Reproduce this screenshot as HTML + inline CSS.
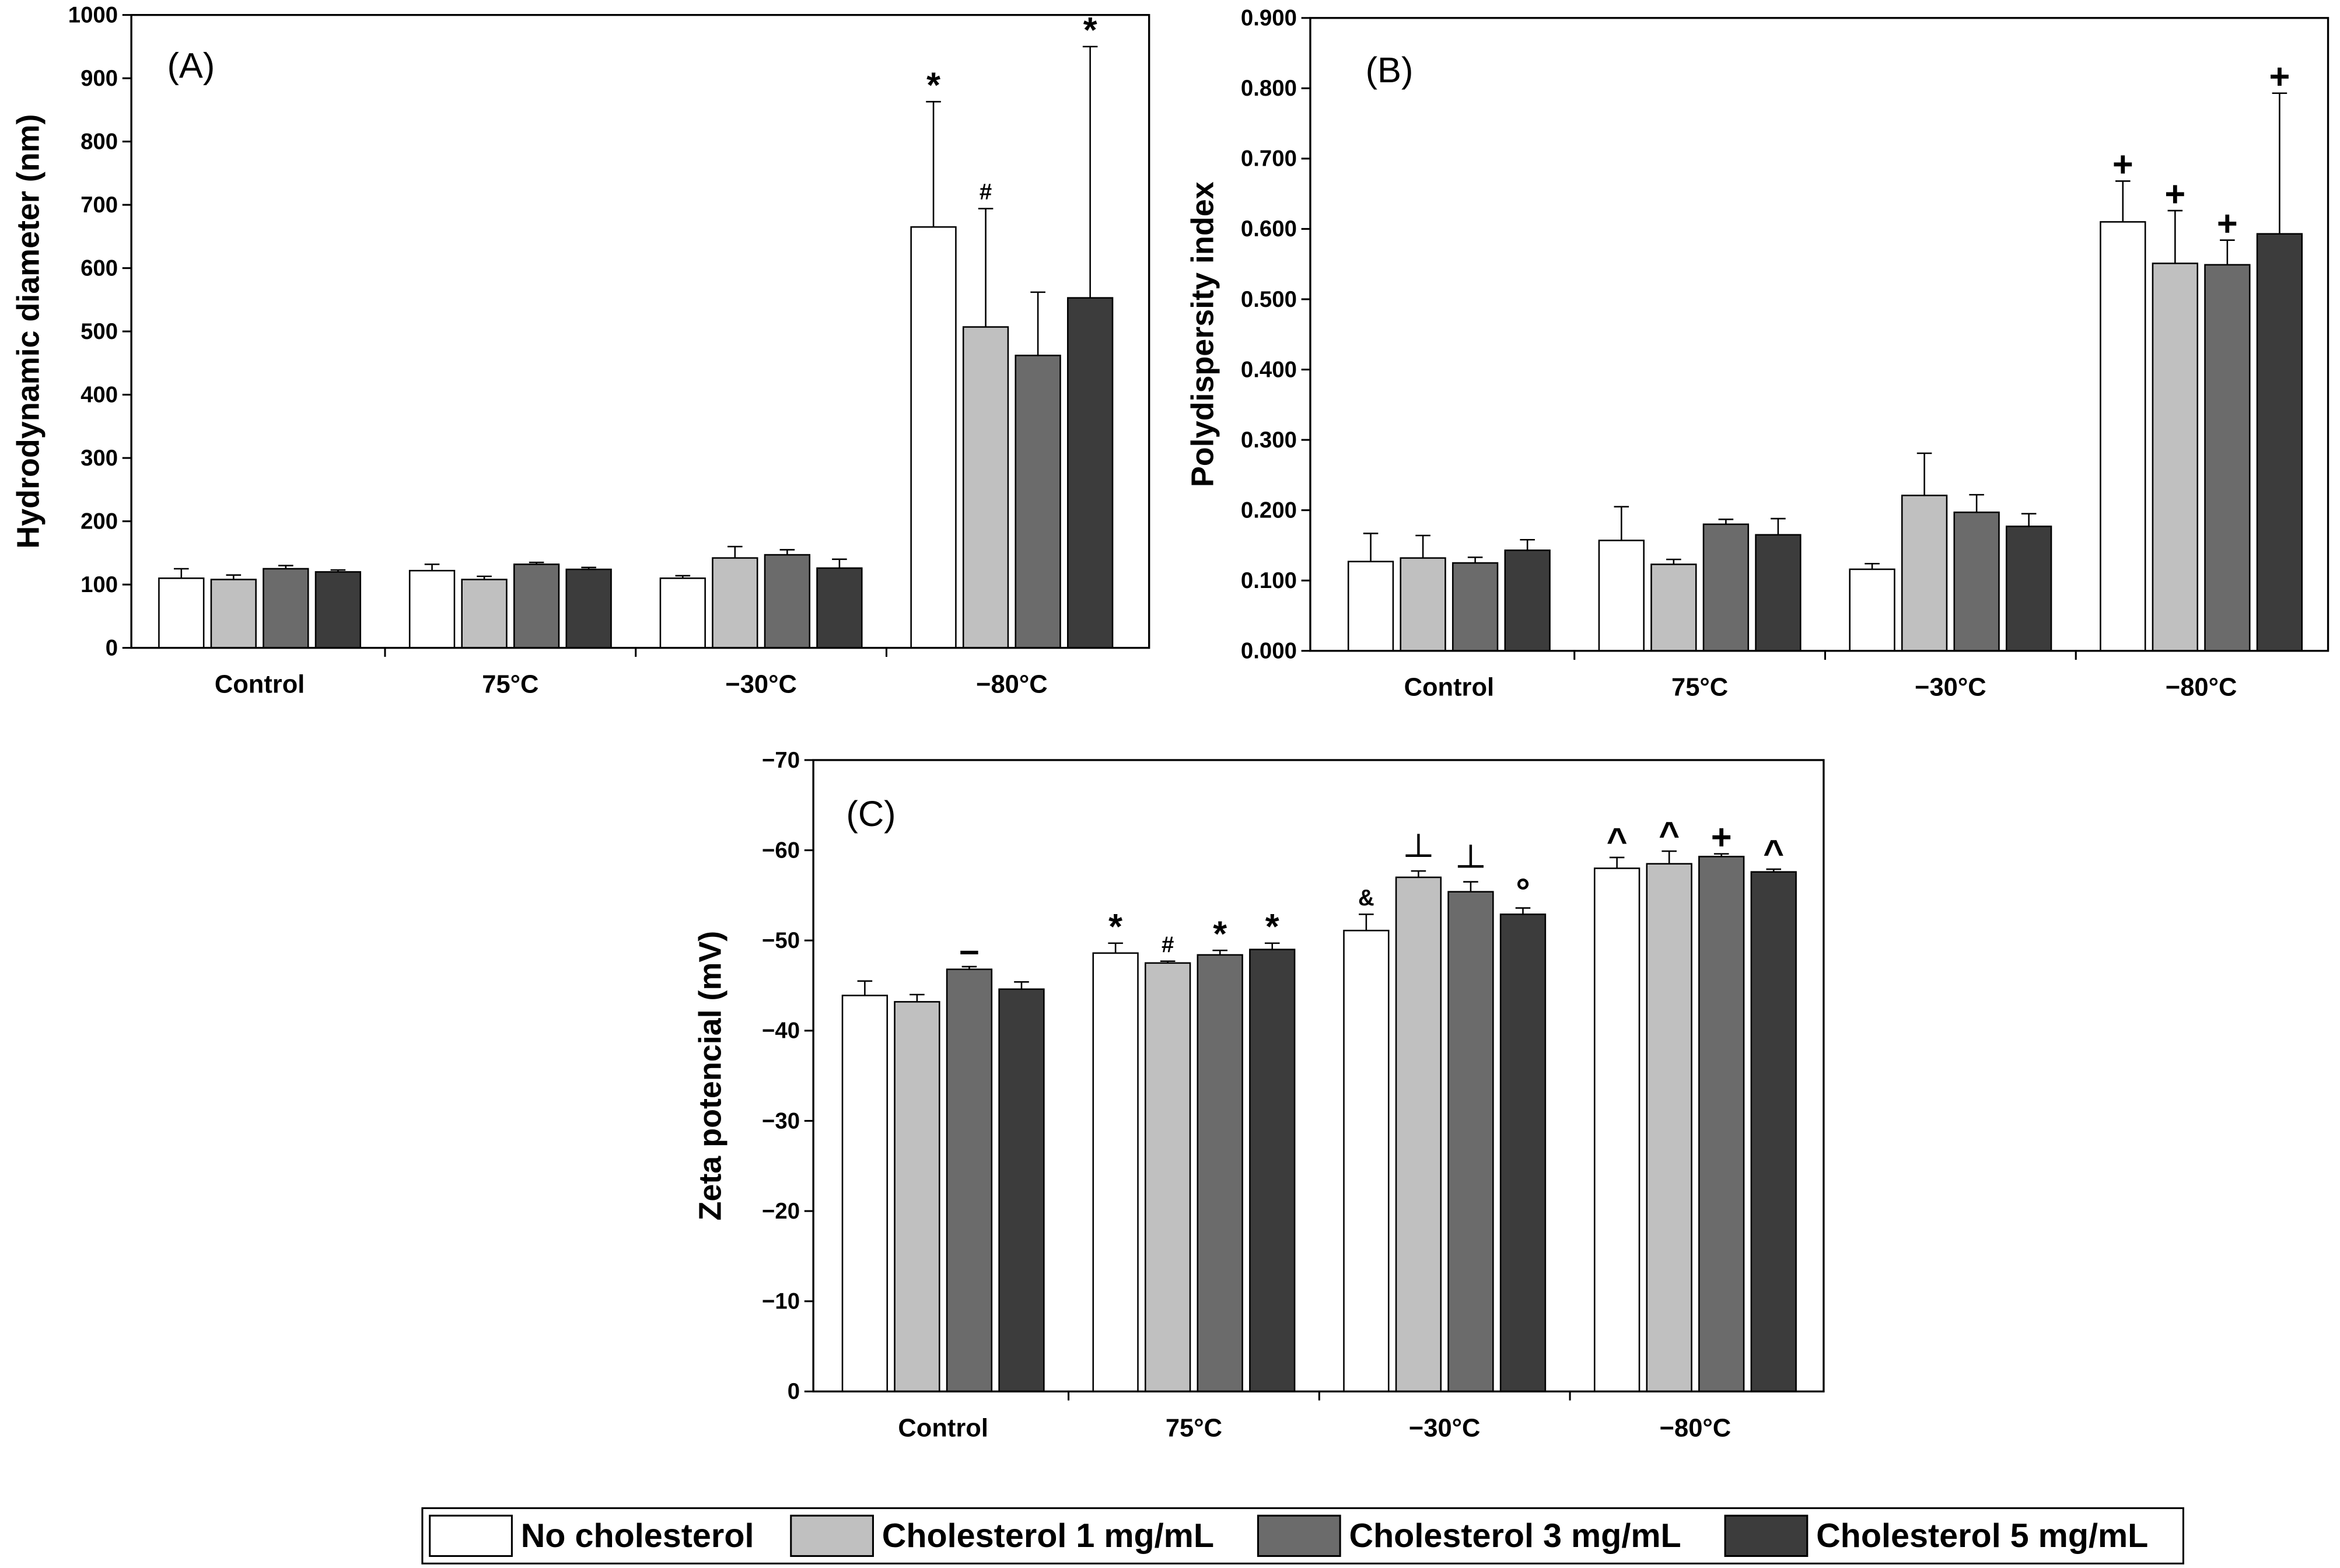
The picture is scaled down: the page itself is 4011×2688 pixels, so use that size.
<!DOCTYPE html>
<html><head><meta charset="utf-8"><style>
html,body{margin:0;padding:0;background:#fff}
svg{display:block}
text{font-family:"Liberation Sans",Arial,sans-serif;fill:#000}
</style></head><body>
<svg id="fig" width="4011" height="2688" viewBox="0 0 1568 1048" preserveAspectRatio="none" xmlns="http://www.w3.org/2000/svg"></svg>
<script>
const categories = ["Control","75°C","\u221230°C","\u221280°C"];
const seriesNames = ["No cholesterol","Cholesterol 1 mg/mL","Cholesterol 3 mg/mL","Cholesterol 5 mg/mL"];
const colors = ["#ffffff","#c0c0c0","#6b6b6b","#3c3c3c"];

const aValues = [[110,108,125,120],[122,108,132,124],[110,142,147,126],[665,507,462,553]];
const aErrors = [[15,7,5,3],[10,5,3,3],[4,18,8,14],[198,187,100,397]];
const aMarks = [["","","",""],["","","",""],["","","",""],["*","#","","*"]];
const aTicks = [0,100,200,300,400,500,600,700,800,900,1000];

const bValues = [[0.127,0.132,0.125,0.143],[0.157,0.123,0.180,0.165],[0.116,0.221,0.197,0.177],[0.610,0.551,0.549,0.593]];
const bErrors = [[0.040,0.032,0.008,0.015],[0.048,0.007,0.007,0.023],[0.008,0.060,0.025,0.018],[0.058,0.075,0.035,0.200]];
const bMarks = [["","","",""],["","","",""],["","","",""],["+","+","+","+"]];
const bTicks = [0,0.1,0.2,0.3,0.4,0.5,0.6,0.7,0.8,0.9];

const cValues = [[43.9,43.2,46.8,44.6],[48.6,47.5,48.4,49.0],[51.1,57.0,55.4,52.9],[58.0,58.5,59.3,57.6]];
const cErrors = [[1.6,0.8,0.3,0.8],[1.1,0.2,0.5,0.7],[1.8,0.7,1.1,0.7],[1.2,1.4,0.3,0.3]];
const cMarks = [["","","\u2013",""],["*","#","*","*"],["&","\u2534","\u2534","\u00b0"],["^","^","+","^"]];
const cTicks = [0,10,20,30,40,50,60,70];

const svg = document.getElementById('fig');
const NS = "http://www.w3.org/2000/svg";
function mk(tag, attrs, parent){ const e=document.createElementNS(NS,tag); for(const k in attrs) e.setAttribute(k,attrs[k]); (parent||svg).appendChild(e); return e; }

function panel(cfg){
  const g = mk('g',{});
  
  
  const {x0,x1,y0,y1,max,firstCenter,spacing} = cfg;
  const yS = v => y1 - (v/max)*(y1-y0);
  const xG = i => firstCenter + i*spacing;
  const barW = 30, step = 35;
  cfg.values.forEach((grp,gi)=>{
    grp.forEach((v,si)=>{
      const cx = xG(gi) + (si-1.5)*step;
      const e = cfg.errors[gi][si];
      const top = yS(e+v);
      const l = mk('line',{x1:cx,x2:cx,y1:yS(v),y2:top,stroke:'#000','stroke-width':1},g);
      
      
      const cap = mk('line',{x1:cx-5,x2:cx+5,y1:top,y2:top,stroke:'#000','stroke-width':1},g);
      
      
      const r = mk('rect',{x:cx-barW/2,y:yS(v),width:barW,height:y1-yS(v),fill:colors[si],stroke:'#000','stroke-width':1},g);
      
      
      const m = cfg.marks[gi][si];
      if(m){
        const small = (m==='#'||m==='&');
        const t = mk('text',{x:cx,y:top-(small?6:3),'text-anchor':'middle','font-size':small?15:24,'font-weight':'bold'},g);
        t.textContent = m;
        
        
      }
    });
    const lab = mk('text',{x:xG(gi),y:y1+30,'text-anchor':'middle','font-size':17,'font-weight':'bold'},g);
    lab.textContent = categories[gi];
    
    
    if(gi<3){
      const bx = xG(gi)+spacing/2;
      mk('line',{x1:bx,x2:bx,y1:y1,y2:y1+6,stroke:'#000','stroke-width':1.2},g);
    }
  });
  cfg.ticks.forEach(t=>{
    const y = yS(t);
    mk('line',{x1:x0-6,x2:x0,y1:y,y2:y,stroke:'#000','stroke-width':1.2},g);
    const tl = mk('text',{x:x0-9,y:y+5,'text-anchor':'end','font-size':15,'font-weight':'bold'},g);
    tl.textContent = cfg.fmt(t);
    
    
  });
  const box = mk('rect',{x:x0,y:y0,width:x1-x0,height:y1-y0,fill:'none',stroke:'#000','stroke-width':1.3},g);
  
  
  const yt = mk('text',{x:0,y:0,'text-anchor':'middle','font-size':21,'font-weight':'bold',transform:`translate(${cfg.titleX},${(y0+y1)/2}) rotate(-90)`},g);
  yt.textContent = cfg.title;
  
  
  const pl = mk('text',{x:cfg.labelX,y:cfg.labelY,'font-size':24},g);
  pl.textContent = cfg.label;
  
  
}

panel({name:'panel-a',x0:88,x1:770,y0:10,y1:433,max:1000,firstCenter:174,spacing:168,values:aValues,errors:aErrors,marks:aMarks,ticks:aTicks,fmt:t=>String(t),title:'Hydrodynamic diameter (nm)',titleX:26,label:'(A)',labelX:112,labelY:52});
panel({name:'panel-b',x0:878,x1:1560,y0:12,y1:435,max:0.9,firstCenter:971,spacing:168,values:bValues,errors:bErrors,marks:bMarks,ticks:bTicks,fmt:t=>t.toFixed(3),title:'Polydispersity index',titleX:813,label:'(B)',labelX:915,labelY:55});
panel({name:'panel-c',x0:545,x1:1222,y0:508,y1:930,max:70,firstCenter:632,spacing:168,values:cValues,errors:cErrors,marks:cMarks,ticks:cTicks,fmt:t=>t===0?'0':'\u2212'+t,title:'Zeta potencial (mV)',titleX:483,label:'(C)',labelX:567,labelY:552});

const lg = mk('g',{});


mk('rect',{x:283,y:1008,width:1180,height:37,fill:'#fff',stroke:'#000','stroke-width':1.2},lg);
const lx = [288,530,843,1156];
seriesNames.forEach((n,i)=>{
  const e = mk('g',{},lg);
  
  
  mk('rect',{x:lx[i],y:1013,width:55,height:27,fill:colors[i],stroke:'#000','stroke-width':1.2},e);
  const t = mk('text',{x:lx[i]+61,y:1034,'font-size':22.5,'font-weight':'bold'},e);
  t.textContent = n;
});
</script>
</body></html>
